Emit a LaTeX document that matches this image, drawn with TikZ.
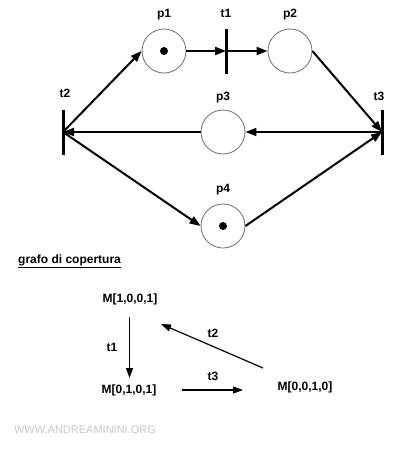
\documentclass[tikz,border=0pt]{standalone}
\usepackage{fontspec}
\setmainfont{Liberation Sans}
\usetikzlibrary{arrows.meta}
\definecolor{placegray}{RGB}{110,110,110}
\definecolor{wmgray}{RGB}{200,200,200}
\tikzset{
  place/.style={circle,draw=placegray,line width=0.8pt,minimum size=44pt,inner sep=0pt},
  trans/.style={rectangle,fill=black,minimum width=3pt,minimum height=45pt,inner sep=0pt},
  lbl/.style={font=\fontsize{12}{14}\selectfont\bfseries,inner sep=0pt},
  arc/.style={line width=2pt,-{Triangle[length=11pt,width=8pt]}},
  cov/.style={line width=1.2pt,-{Triangle[length=10pt,width=7pt]}},
  token/.style={circle,fill=black,minimum size=8pt,inner sep=0pt}
}
\begin{document}
\begin{tikzpicture}[x=1pt,y=-1pt]
\useasboundingbox (0,0) rectangle (407,450);
% places
\node[place] (p1) at (164,51) {};
\node[place] (p2) at (290,51) {};
\node[place] (p3) at (223,132) {};
\node[place] (p4) at (223,226) {};
\node[token] (k1) at (p1.center) {};
\node[token] (k4) at (p4.center) {};
% transitions
\node[trans] (t1) at (226,51) {};
\node[trans] (t2) at (63,132) {};
\node[trans] (t3) at (382,132) {};
% labels
\node[lbl] (lp1) at (164,15) {p1};
\node[lbl] (lp2) at (290,15) {p2};
\node[lbl] (lp3) at (223,98) {p3};
\node[lbl] (lp4) at (223,190) {p4};
\node[lbl] (lt1) at (226,13) {t1};
\node[lbl] (lt2) at (65,93) {t2};
\node[lbl] (lt3) at (379,96) {t3};
% arcs
\draw[arc] (t2.center) -- (p1.west);
\draw[arc] (p1.east) -- (t1.center);
\draw[arc] (t1.center) -- (p2.west);
\draw[arc] (p2.east) -- (t3.center);
\draw[arc] (t3.center) -- (p3.east);
\draw[arc] (p3.west) -- (t2.center);
\draw[arc] (t2.center) -- (p4.west);
\draw[arc] (p4.east) -- (t3.center);
% coverage graph
\node[lbl,anchor=west] (title) at (18,261) {\underline{grafo di copertura}};
\node[lbl] (m1) at (130,299) {M[1,0,0,1]};
\node[lbl] (m2) at (129,390) {M[0,1,0,1]};
\node[lbl] (m3) at (305,387) {M[0,0,1,0]};
\coordinate (a1s) at (129.5,317);
\coordinate (a1e) at (129.5,378);
\coordinate (a3s) at (182,390);
\coordinate (a3e) at (243,390);
\coordinate (a2s) at (263,368);
\coordinate (a2e) at (161,324);
\draw[cov] (a1s) -- (a1e);
\draw[cov] (a3s) -- (a3e);
\draw[cov] (a2s) -- (a2e);
\node[lbl] (c1) at (112,347) {t1};
\node[lbl] (c3) at (213,376) {t3};
\node[lbl] (c2) at (213,333) {t2};
\node[font=\fontsize{11}{13}\selectfont,text=wmgray,inner sep=0pt] (wm) at (85,430) {WWW.ANDREAMININI.ORG};
\end{tikzpicture}
\end{document}
